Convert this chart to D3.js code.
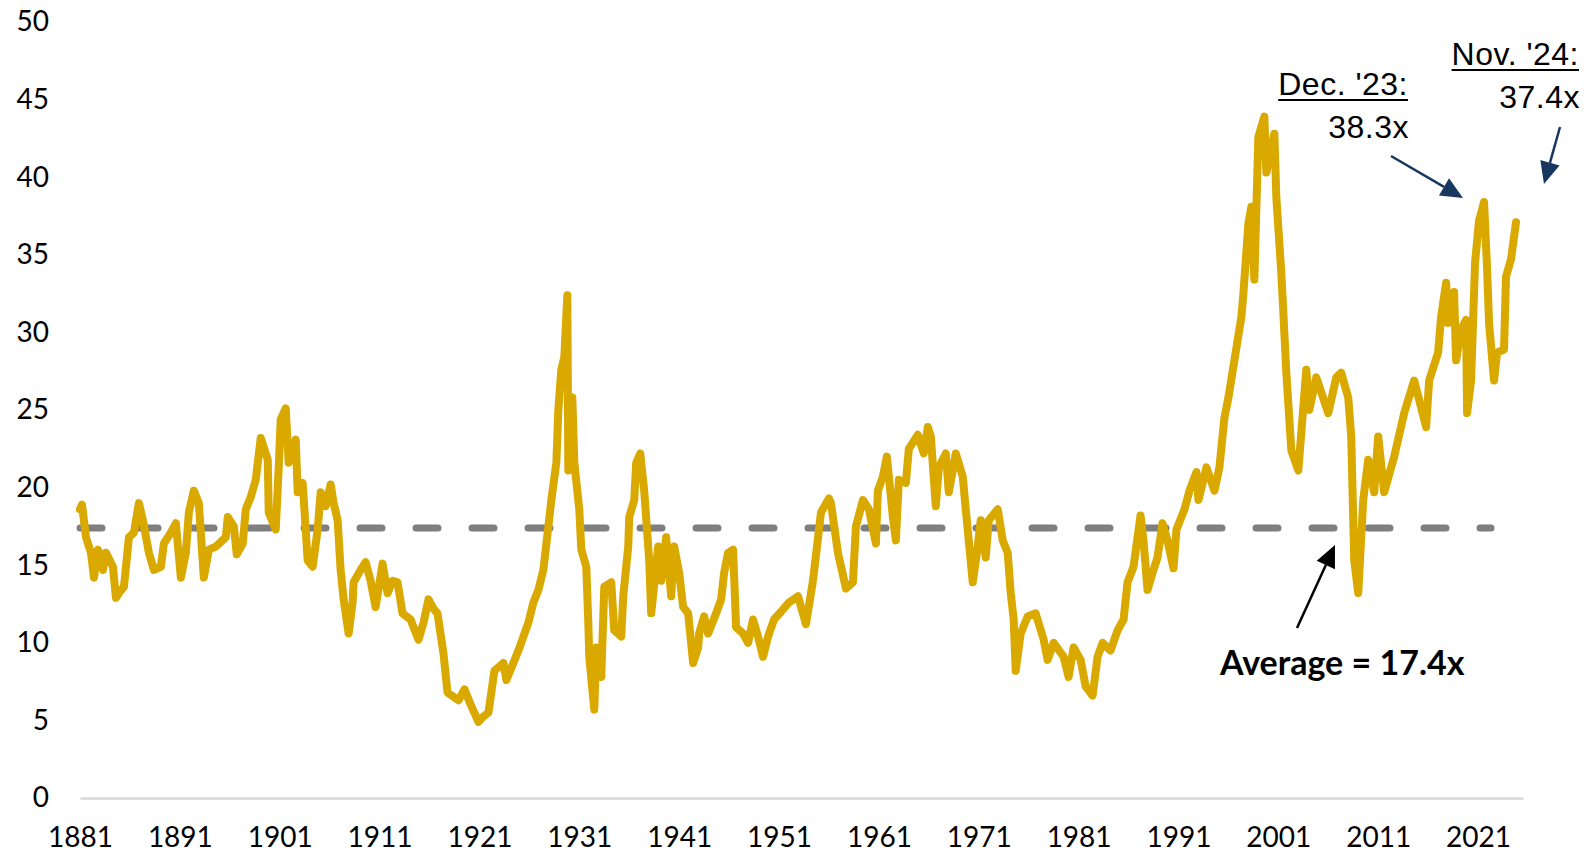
<!DOCTYPE html>
<html lang="en">
<head>
<meta charset="UTF-8">
<title>Shiller CAPE Ratio</title>
<script src="https://d3js.org/d3.v7.min.js"></script>
<style>
    body { margin: 0; background: #fff; }
    svg { display: block; }
    .axis text { font-family: Lato, 'Open Sans', sans-serif; font-size: 28px; fill: #000; }
    .axis line { display: none; }
    .note { font-family: 'Liberation Sans', Arial, sans-serif; font-size: 32px; fill: #000; letter-spacing: 0.5px; }
    .avg-note { font-family: Lato, sans-serif; font-weight: 700; font-size: 34px; fill: #000; }
</style>
</head>
<body>
<div id="chart"></div>
<script>
// CAPE readings (decimal year, ratio) taken off the chart, ten per row
const years = [
    1881.0, 1881.2, 1881.6, 1882.1, 1882.4, 1882.8, 1883.3, 1883.6, 1884.3, 1884.6,
    1885.0, 1885.4, 1885.9, 1886.4, 1886.9, 1887.3, 1887.9, 1888.4, 1889.1, 1889.4,
    1890.1, 1890.6, 1891.1, 1891.6, 1891.9, 1892.4, 1892.9, 1893.1, 1893.4, 1893.9,
    1894.6, 1895.6, 1895.8, 1896.4, 1896.7, 1897.3, 1897.6, 1898.1, 1898.6, 1899.1,
    1899.8, 1899.9, 1900.6, 1900.9, 1901.1, 1901.6, 1901.9, 1902.6, 1902.8, 1903.3,
    1903.8, 1904.3, 1904.8, 1905.1, 1905.6, 1906.1, 1906.4, 1906.8, 1907.1, 1907.4,
    1907.9, 1908.3, 1908.4, 1909.1, 1909.6, 1910.1, 1910.6, 1911.3, 1911.8, 1912.3,
    1912.8, 1913.3, 1914.1, 1914.9, 1915.4, 1915.9, 1916.4, 1916.8, 1917.4, 1917.8,
    1918.9, 1919.5, 1920.2, 1920.9, 1921.3, 1921.9, 1922.5, 1923.4, 1923.7, 1924.9,
    1925.9, 1926.4, 1926.9, 1927.4, 1927.9, 1928.2, 1928.7, 1928.9, 1929.2, 1929.5,
    1929.8, 1929.9, 1930.3, 1930.5, 1931.0, 1931.2, 1931.7, 1931.9, 1932.0, 1932.5,
    1932.7, 1933.2, 1933.5, 1934.2, 1934.5, 1935.2, 1935.4, 1935.9, 1936.0, 1936.5,
    1936.7, 1937.1, 1937.5, 1938.0, 1938.2, 1938.9, 1939.2, 1939.7, 1940.2, 1940.5,
    1941.0, 1941.4, 1941.9, 1942.4, 1942.9, 1943.0, 1943.5, 1943.9, 1944.7, 1945.2,
    1945.5, 1945.9, 1946.4, 1946.7, 1947.4, 1947.9, 1948.4, 1948.9, 1949.4, 1949.9,
    1950.5, 1951.2, 1952.0, 1952.9, 1953.7, 1954.4, 1955.2, 1956.0, 1956.2, 1956.9,
    1957.7, 1958.4, 1958.7, 1959.4, 1960.0, 1960.7, 1960.9, 1961.4, 1961.8, 1962.4,
    1962.7, 1963.0, 1963.7, 1964.0, 1964.9, 1965.5, 1965.9, 1966.2, 1966.7, 1967.0,
    1967.7, 1968.0, 1968.7, 1969.4, 1969.7, 1970.4, 1970.9, 1971.2, 1971.7, 1972.0,
    1972.9, 1973.4, 1973.9, 1974.2, 1974.5, 1974.7, 1975.2, 1975.9, 1976.7, 1977.5,
    1977.9, 1978.5, 1979.5, 1980.0, 1980.5, 1981.2, 1981.7, 1982.4, 1982.9, 1983.4,
    1984.2, 1984.9, 1985.5, 1985.9, 1986.5, 1987.2, 1987.5, 1987.9, 1988.4, 1988.9,
    1989.4, 1989.9, 1990.5, 1990.8, 1991.6, 1992.1, 1992.8, 1993.0, 1993.8, 1994.6,
    1995.1, 1995.6, 1996.0, 1996.8, 1997.3, 1997.5, 1998.0, 1998.3, 1998.6, 1999.0,
    1999.6, 1999.8, 2000.6, 2000.8, 2001.3, 2001.5, 2001.8, 2002.3, 2003.0, 2003.8,
    2004.1, 2004.8, 2006.0, 2006.8, 2007.3, 2008.0, 2008.3, 2008.6, 2009.0, 2009.5,
    2010.0, 2010.6, 2011.0, 2011.6, 2012.6, 2013.6, 2014.6, 2015.8, 2016.1, 2017.0,
    2017.3, 2017.8, 2018.0, 2018.6, 2018.8, 2019.3, 2019.8, 2019.9, 2020.3, 2020.7,
    2021.1, 2021.6, 2021.9, 2022.1, 2022.6, 2022.9, 2023.6, 2023.8, 2024.3, 2024.8
];
const cape = [
    18.6, 18.9, 16.8, 15.8, 14.2, 16.0, 14.7, 15.8, 14.9, 12.9,
    13.3, 13.6, 16.8, 17.1, 19.0, 17.9, 15.8, 14.7, 14.9, 16.4,
    17.1, 17.7, 14.2, 15.8, 18.4, 19.8, 19.0, 17.1, 14.2, 16.0,
    16.2, 16.8, 18.1, 17.5, 15.7, 16.4, 18.6, 19.4, 20.5, 23.2,
    21.8, 18.4, 17.3, 21.3, 24.4, 25.1, 21.6, 23.1, 19.7, 20.3,
    15.3, 14.9, 17.3, 19.7, 18.8, 20.2, 19.0, 17.9, 14.7, 12.8,
    10.6, 12.6, 13.9, 14.7, 15.2, 14.0, 12.3, 15.1, 13.2, 14.0,
    13.9, 11.9, 11.5, 10.2, 11.3, 12.8, 12.2, 11.9, 9.3, 6.8,
    6.3, 7.0, 5.9, 4.9, 5.2, 5.5, 8.2, 8.7, 7.6, 9.5,
    11.3, 12.6, 13.4, 14.7, 17.5, 19.2, 21.6, 25.0, 27.6, 28.4,
    32.4, 21.1, 25.8, 21.6, 18.6, 16.0, 14.9, 11.3, 9.1, 5.7,
    9.7, 7.8, 13.6, 13.9, 10.8, 10.4, 13.0, 16.2, 18.1, 19.2,
    21.6, 22.2, 19.8, 15.3, 11.9, 16.2, 14.0, 16.8, 13.0, 16.2,
    14.5, 12.3, 11.9, 8.7, 9.7, 10.6, 11.7, 10.6, 11.9, 12.8,
    14.5, 15.8, 16.0, 11.0, 10.6, 10.0, 11.5, 10.4, 9.1, 10.4,
    11.5, 12.0, 12.6, 13.0, 11.2, 14.0, 18.4, 19.3, 19.0, 15.8,
    13.5, 13.9, 17.5, 19.2, 18.6, 16.4, 19.8, 20.7, 22.0, 18.1,
    16.6, 20.5, 20.3, 22.5, 23.4, 22.2, 23.9, 23.3, 18.8, 21.3,
    22.2, 19.7, 22.2, 20.7, 18.6, 13.9, 16.2, 17.9, 15.5, 17.9,
    18.6, 16.6, 15.8, 13.2, 11.5, 8.2, 10.6, 11.7, 11.9, 10.2,
    8.9, 10.0, 9.1, 7.8, 9.7, 8.9, 7.2, 6.6, 9.1, 10.0,
    9.5, 10.8, 11.5, 13.9, 14.9, 18.2, 16.6, 13.4, 14.5, 15.5,
    17.7, 16.6, 14.8, 17.3, 18.6, 19.8, 21.0, 19.2, 21.3, 19.8,
    21.3, 24.5, 25.8, 29.0, 31.0, 32.5, 37.0, 38.1, 33.4, 42.6,
    43.9, 40.3, 42.8, 38.7, 33.8, 31.3, 27.4, 22.4, 21.1, 27.6,
    25.0, 27.1, 24.8, 27.1, 27.4, 25.8, 23.3, 15.3, 13.2, 19.2,
    21.8, 19.7, 23.3, 19.7, 22.0, 24.8, 26.9, 23.9, 26.9, 28.7,
    31.0, 33.2, 30.6, 32.6, 28.2, 30.2, 30.8, 24.8, 26.9, 34.5,
    37.2, 38.4, 34.2, 30.6, 26.9, 28.7, 28.9, 33.6, 34.7, 37.1
];
const average = 17.4;
const yTicks = [0, 5, 10, 15, 20, 25, 30, 35, 40, 45, 50];
const xTicks = [1881, 1891, 1901, 1911, 1921, 1931, 1941, 1951, 1961, 1971, 1981, 1991, 2001, 2011, 2021];
const noteTitles = ["Dec. '23:", "Nov. '24:"];
const noteValues = ["38.3x", "37.4x"];
const avgLabel = "Average = 17.4x";

const W = 1586, H = 852;
const svg = d3.select("#chart").append("svg")
    .attr("width", W)
    .attr("height", H);

const x = d3.scaleLinear().domain([1881, 2025.5]).range([80, 1523]);
const y = d3.scaleLinear().domain([0, 50]).range([798, 22]);

// x axis (light baseline + year labels)
const xAxis = svg.append("g")
    .attr("class", "axis")
    .attr("transform", `translate(0,${y(0)})`)
    .call(d3.axisBottom(x).tickValues(xTicks).tickFormat(d3.format("d")).tickSize(0).tickSizeOuter(0).tickPadding(29));
xAxis.select(".domain").attr("stroke", "#d9d9d9").attr("stroke-width", 2.5);

// y axis (labels only)
const yAxis = svg.append("g")
    .attr("class", "axis")
    .attr("transform", "translate(49,0)")
    .call(d3.axisLeft(y).tickValues(yTicks).tickSize(0).tickPadding(0));
yAxis.select(".domain").remove();

// average dashed line
svg.append("line")
    .attr("x1", x(1881)).attr("x2", x(2022.3))
    .attr("y1", y(average)).attr("y2", y(average))
    .attr("stroke", "#7f7f7f")
    .attr("stroke-width", 7)
    .attr("stroke-linecap", "round")
    .attr("stroke-dasharray", "22,34");

// CAPE line
const series = years.map((yr, i) => ({yr, v: cape[i]}));
svg.append("path")
    .datum(series)
    .attr("fill", "none")
    .attr("stroke", "#daa900")
    .attr("stroke-width", 8)
    .attr("stroke-linejoin", "round")
    .attr("stroke-linecap", "round")
    .attr("d", d3.line().x(d => x(d.yr)).y(d => y(d.v)));

// arrows
function arrow(x1, y1, x2, y2, color) {
    const a = Math.atan2(y2 - y1, x2 - x1);
    const len = 22, half = 10;
    const bx = x2 - len * Math.cos(a), by = y2 - len * Math.sin(a);
    svg.append("line")
        .attr("x1", x1).attr("y1", y1).attr("x2", bx).attr("y2", by)
        .attr("stroke", color).attr("stroke-width", 2.5);
    const px = -Math.sin(a) * half, py = Math.cos(a) * half;
    svg.append("polygon")
        .attr("points", `${x2},${y2} ${bx + px},${by + py} ${bx - px},${by - py}`)
        .attr("fill", color);
}

// callouts
function callout(title, value, right, base) {
    const t = svg.append("text").attr("class", "note")
        .attr("x", right).attr("y", base)
        .attr("text-anchor", "end").text(title);
    const w = t.node().getComputedTextLength();
    svg.append("line")
        .attr("x1", right - w).attr("x2", right)
        .attr("y1", base + 5).attr("y2", base + 5)
        .attr("stroke", "#000").attr("stroke-width", 2);
    svg.append("text").attr("class", "note")
        .attr("x", right + 1).attr("y", base + 43)
        .attr("text-anchor", "end").text(value);
}

callout(noteTitles[0], noteValues[0], 1408, 95);
callout(noteTitles[1], noteValues[1], 1579, 65);

arrow(1391, 156, 1463, 198, "#17375e");
arrow(1560, 127, 1544, 184, "#17375e");
arrow(1297, 628, 1335, 545, "#000");

svg.append("text").attr("class", "avg-note")
    .attr("x", 1220).attr("y", 675)
    .text(avgLabel);
</script>
</body>
</html>
